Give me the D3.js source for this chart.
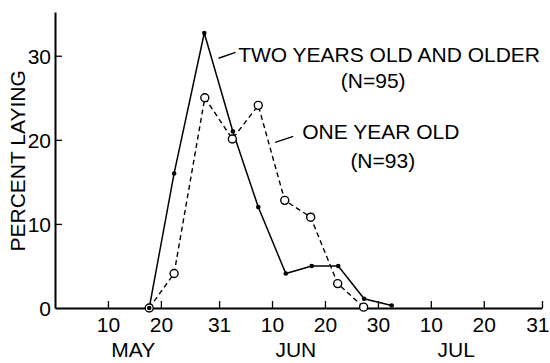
<!DOCTYPE html>
<html>
<head>
<meta charset="utf-8">
<script src="https://cdn.jsdelivr.net/npm/d3@7"></script>
<style>
  html, body { margin: 0; padding: 0; background: #fff; }
  svg { display: block; }
  text { font-family: "Liberation Sans", Arial, sans-serif; fill: #000; }
</style>
</head>
<body>
<svg id="chart" width="550" height="363"></svg>
<script>
// ---- data (day number counted from 30 April = day 0) ----
const sampleDays   = [17.8, 22.5, 28.2, 33.6, 38.4, 43.6, 48.5, 53.5, 58.4, 63.6];
const twoYearOld   = [0, 16, 32.7, 21, 12, 4.1, 5, 5, 1.1, 0.3];
const oneYearDays  = [17.8, 22.5, 28.3, 33.5, 38.4, 43.4, 48.3, 53.4, 58.3];
const oneYearOld   = [0, 4.1, 25, 20.1, 24.1, 12.8, 10.8, 2.9, 0.1];

const xTickDays    = [10, 20, 31, 41, 51, 61, 71, 81, 92];
const xTickLabels  = ["10", "20", "31", "10", "20", "30", "10", "20", "31"];
const monthNames   = ["MAY", "JUN", "JUL"];
const monthCenters = [14.8, 45.5, 75.8];
const yTicks       = [0, 10, 20, 30];

const seriesLabels = ["TWO YEARS OLD AND OLDER", "(N=95)", "ONE YEAR OLD", "(N=93)"];

// ---- scales ----
const svg = d3.select("#chart");
const x = d3.scaleLinear().domain([0, 92]).range([55, 542]);
const y = d3.scaleLinear().domain([0, 35.2]).range([308, 12]);

// ---- axes ----
const xAxis = d3.axisBottom(x)
  .tickValues(xTickDays)
  .tickFormat((d, i) => xTickLabels[i])
  .tickSizeInner(-7).tickSizeOuter(0).tickPadding(14);
const gx = svg.append("g").attr("transform", `translate(0,${y(0)})`).call(xAxis);
gx.select(".domain").attr("stroke", "#000").attr("stroke-width", 2);
gx.selectAll(".tick line").attr("stroke", "#000").attr("stroke-width", 1.3);
gx.selectAll(".tick text").attr("font-size", 21).attr("font-family", "Liberation Sans, Arial, sans-serif")
  .attr("fill", "#000").attr("dy", "0.71em").attr("y", 9);
// keep the last label inside the frame
gx.selectAll(".tick text").filter((d, i) => i === xTickDays.length - 1)
  .attr("text-anchor", "end").attr("x", 7);

const yAxis = d3.axisLeft(y)
  .tickValues(yTicks)
  .tickFormat(d3.format("d"))
  .tickSizeInner(-7).tickSizeOuter(0).tickPadding(4);
const gy = svg.append("g").attr("transform", `translate(${x(0)},0)`).call(yAxis);
gy.select(".domain").attr("stroke", "#000").attr("stroke-width", 2);
gy.selectAll(".tick line").attr("stroke", "#000").attr("stroke-width", 1.3)
  .filter(d => d === 0).remove();
gy.selectAll(".tick text").attr("font-size", 21).attr("font-family", "Liberation Sans, Arial, sans-serif")
  .attr("fill", "#000").attr("x", -4).attr("dy", "0.35em");

// month labels
svg.append("g").selectAll("text").data(monthNames).join("text")
  .attr("x", (d, i) => x(monthCenters[i]))
  .attr("y", 357)
  .attr("text-anchor", "middle")
  .attr("font-size", 21)
  .text(d => d);

// y axis title
svg.append("text")
  .attr("transform", `translate(25,${y(17.5)}) rotate(-90)`)
  .attr("text-anchor", "middle")
  .attr("font-size", 21)
  .text("PERCENT LAYING");

// ---- lines ----
const line = d3.line().x(d => x(d[0])).y(d => y(d[1]));
const twoPts = sampleDays.map((d, i) => [d, twoYearOld[i]]);
const onePts = oneYearDays.map((d, i) => [d, oneYearOld[i]]);

svg.append("path").datum(onePts).attr("d", line)
  .attr("fill", "none").attr("stroke", "#000").attr("stroke-width", 1.4)
  .attr("stroke-dasharray", "5,3.5");
svg.append("path").datum(twoPts).attr("d", line)
  .attr("fill", "none").attr("stroke", "#000").attr("stroke-width", 1.5);

svg.append("g").selectAll("circle").data(onePts).join("circle")
  .attr("cx", d => x(d[0])).attr("cy", d => y(d[1])).attr("r", 4)
  .attr("fill", "#fff").attr("stroke", "#000").attr("stroke-width", 1.4);
svg.append("g").selectAll("circle").data(twoPts).join("circle")
  .attr("cx", d => x(d[0])).attr("cy", d => y(d[1])).attr("r", 2.3)
  .attr("fill", "#000");

// ---- annotations (positioned in data units) ----
const labelPos = [[34.6, 29.3], [54.0, 26.2], [46.7, 20.1], [55.8, 16.6]];
svg.append("g").selectAll("text").data(seriesLabels).join("text")
  .attr("x", (d, i) => x(labelPos[i][0]))
  .attr("y", (d, i) => y(labelPos[i][1]))
  .attr("font-size", 21)
  .text(d => d);

const leaders = [[[30.9, 29.7], [34.1, 30.4]], [[41.6, 19.7], [45.0, 20.4]]];
svg.append("g").selectAll("line").data(leaders).join("line")
  .attr("x1", d => x(d[0][0])).attr("y1", d => y(d[0][1]))
  .attr("x2", d => x(d[1][0])).attr("y2", d => y(d[1][1]))
  .attr("stroke", "#000").attr("stroke-width", 1.4);
</script>
</body>
</html>
